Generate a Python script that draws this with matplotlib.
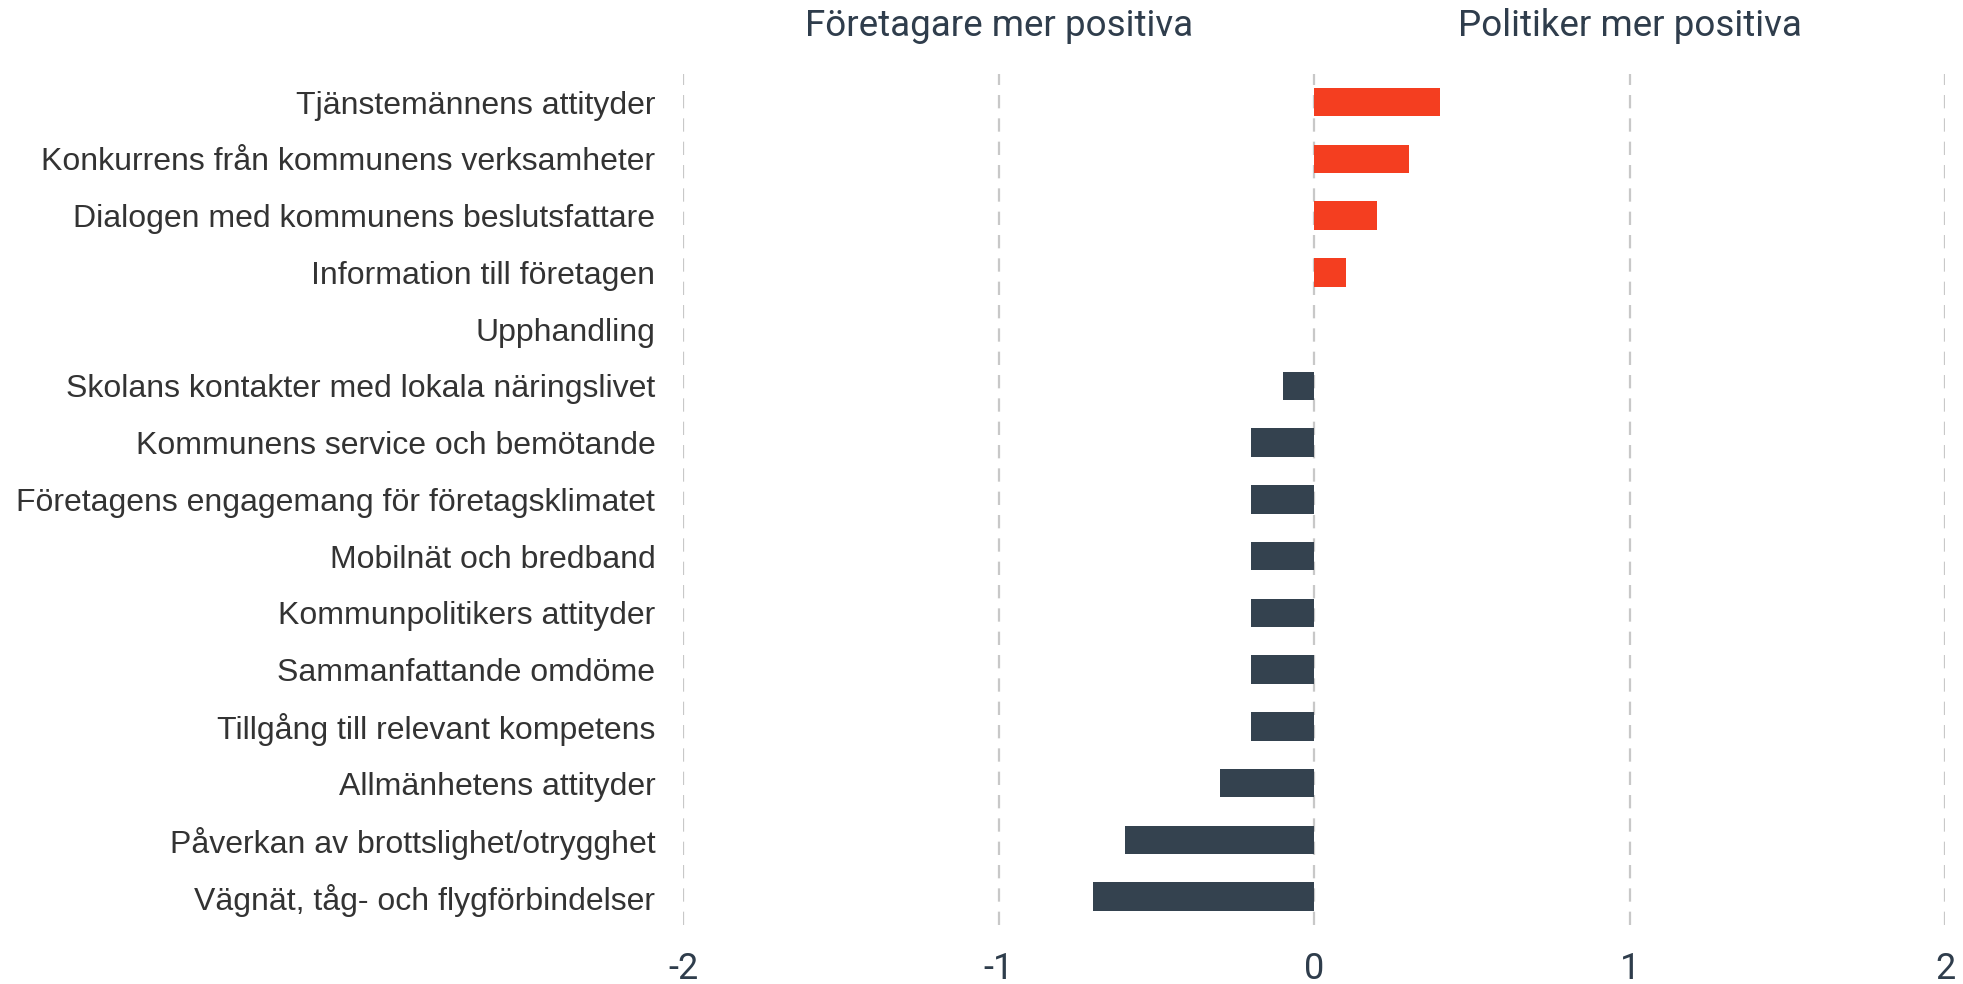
import matplotlib
matplotlib.use('Agg')
import matplotlib.pyplot as plt

# -------------------- Data --------------------
categories = [
    'Tjänstemännens attityder',
    'Konkurrens från kommunens verksamheter',
    'Dialogen med kommunens beslutsfattare',
    'Information till företagen',
    'Upphandling',
    'Skolans kontakter med lokala näringslivet',
    'Kommunens service och bemötande',
    'Företagens engagemang för företagsklimatet',
    'Mobilnät och bredband',
    'Kommunpolitikers attityder',
    'Sammanfattande omdöme',
    'Tillgång till relevant kompetens',
    'Allmänhetens attityder',
    'Påverkan av brottslighet/otrygghet',
    'Vägnät, tåg- och flygförbindelser',
]
values = [0.4, 0.3, 0.2, 0.1, 0.0, -0.1, -0.2, -0.2, -0.2, -0.2, -0.2, -0.2, -0.3, -0.6, -0.7]
x_ticks = [-2, -1, 0, 1, 2]
tick_labels = ['-2', '-1', '0', '1', '2']
header_left = 'Företagare mer positiva'
header_right = 'Politiker mer positiva'

# -------------------- Style --------------------
red = '#f43e20'
dark = '#34424f'
text_dark = '#2f3d4c'
grid_col = '#c8c8c8'

fig = plt.figure(figsize=(19.63, 9.84), dpi=100)
ax = fig.add_axes([0.348, 0.06, 0.643, 0.865])

colors = [red if v > 0 else dark for v in values]
pos = list(range(len(categories)))
ax.barh(pos, values, height=0.5, color=colors, zorder=3)

ax.set_ylim(len(categories) - 0.5, -0.5)
ax.set_xlim(-2, 2)
ax.set_yticks(pos)
ax.set_yticklabels(categories, fontsize=23, color='#333333', family='Liberation Sans')
ax.set_xticks(x_ticks)
ax.set_xticklabels(tick_labels, fontsize=26, color=text_dark, family='Roboto')
ax.tick_params(axis='y', length=0, pad=20)
ax.tick_params(axis='x', length=0, pad=19)

for x in x_ticks:
    ax.axvline(x, color=grid_col, lw=1.6, ls=(0, (6, 4.5)), zorder=1)

for s in ax.spines.values():
    s.set_visible(False)

# Header labels above the chart
ax.text(-1, 1.056, header_left, transform=ax.get_xaxis_transform(),
        ha='center', va='center', fontsize=26.5, color=text_dark, family='Roboto')
ax.text(1, 1.056, header_right, transform=ax.get_xaxis_transform(),
        ha='center', va='center', fontsize=26.5, color=text_dark, family='Roboto')

fig.savefig('out.png', dpi=100, facecolor='white')
